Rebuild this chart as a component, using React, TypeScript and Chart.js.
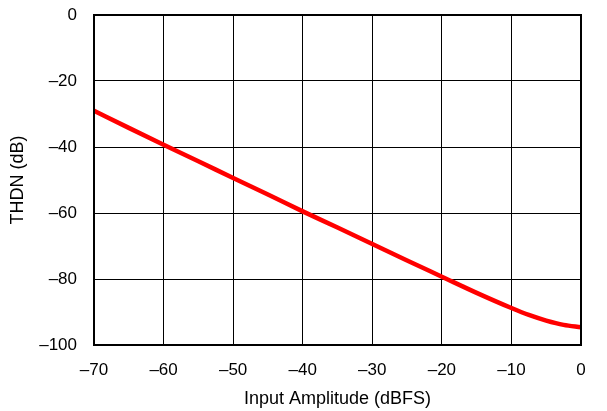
import React, { useEffect, useRef } from "react";
import { Chart, registerables } from "chart.js";

Chart.register(...registerables);

const inputAmplitude = [-70, -65, -60, -55, -50, -45, -40, -35, -30, -25, -20, -15, -10, -7.5, -5, -2.5, 0];
const thdn = [-29.0, -34.2, -39.3, -44.3, -49.4, -54.4, -59.5, -64.4, -69.4, -74.4, -79.3, -84.2, -88.8, -90.9, -92.6, -93.9, -94.6];
const xTicks = [-70, -60, -50, -40, -30, -20, -10, 0];
const yTicks = [0, -20, -40, -60, -80, -100];

const FONT = "'Liberation Sans', Arial, sans-serif";
const fmt = (v: any) => String(v).replace("-", "\u2013");

const frame = {
  id: "frame",
  afterDatasetsDraw(chart: any) {
    const { ctx, chartArea } = chart;
    ctx.save();
    ctx.strokeStyle = "#000";
    ctx.lineWidth = 2;
    ctx.strokeRect(chartArea.left, chartArea.top, chartArea.right - chartArea.left, chartArea.bottom - chartArea.top);
    ctx.restore();
  },
};

export default function App() {
  const ref = useRef<HTMLCanvasElement>(null);
  useEffect(() => {
    document.body.style.margin = "0";
    const chart = new Chart(ref.current!, {
      type: "line",
      data: {
        datasets: [
          {
            data: inputAmplitude.map((x, i) => ({ x, y: thdn[i] })),
            borderColor: "#ff0000",
            borderWidth: 4.5,
            pointRadius: 0,
            tension: 0.4,
            cubicInterpolationMode: "monotone",
            clip: false as any,
          },
        ],
      },
      options: {
        animation: false,
        responsive: false,
        maintainAspectRatio: false,
        layout: { padding: { left: 0, right: 26, top: 15, bottom: 0 } },
        plugins: { legend: { display: false }, tooltip: { enabled: false } },
        scales: {
          x: {
            type: "linear",
            min: -70,
            max: 0,
            afterBuildTicks(scale: any) {
              scale.ticks = xTicks.map((v) => ({ value: v }));
            },
            afterFit(scale: any) {
              scale.height = 66;
              scale.paddingLeft = 0;
              scale.paddingRight = 0;
            },
            grid: { color: "#000", lineWidth: 1, drawTicks: false },
            border: { display: false },
            ticks: { color: "#000", font: { family: FONT, size: 17 }, padding: 15, maxRotation: 0, callback: fmt },
            title: {
              display: true,
              text: "Input Amplitude (dBFS)",
              color: "#000",
              font: { family: FONT, size: 18 },
              padding: { top: 0, bottom: 1 },
            },
          },
          y: {
            type: "linear",
            min: -100,
            max: 0,
            afterBuildTicks(scale: any) {
              scale.ticks = yTicks.map((v) => ({ value: v }));
            },
            afterFit(scale: any) {
              scale.width = 94;
              scale.paddingTop = 0;
              scale.paddingBottom = 0;
            },
            grid: { color: "#000", lineWidth: 1, drawTicks: false },
            border: { display: false },
            ticks: { color: "#000", font: { family: FONT, size: 17 }, padding: 17, callback: fmt },
            title: {
              display: true,
              text: "THDN (dB)",
              color: "#000",
              font: { family: FONT, size: 18 },
              padding: { top: 7, bottom: 0 },
            },
          },
        },
      },
      plugins: [frame],
    });
    return () => chart.destroy();
  }, []);
  return (
    <div style={{ position: "absolute", left: 0, top: 0, width: 607, height: 411, background: "#fff" }}>
      <canvas ref={ref} width={607} height={411} style={{ width: 607, height: 411 }} />
    </div>
  );
}
